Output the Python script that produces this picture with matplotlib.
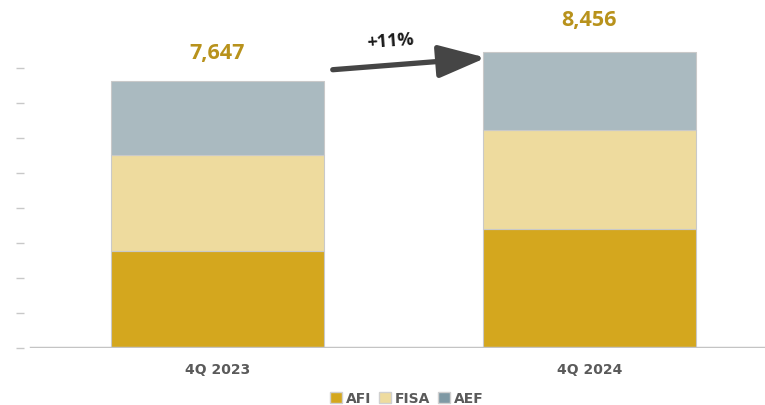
import matplotlib.pyplot as plt
from matplotlib.patches import Patch

plt.rcParams['font.family'] = ['Open Sans', 'DejaVu Sans']

categories = ['4Q 2023', '4Q 2024']
afi = [2774, 3412]
fisa = [2754, 2811]
aef = [2119, 2233]
totals = [7647, 8456]
total_labels = ['7,647', '8,456']
growth_label = '+11%'

c_afi = '#D4A71E'
c_fisa = '#EEDB9E'
c_aef = '#AABAC0'
c_aef_legend = '#7F99A4'
c_total = '#B8921C'

fig = plt.figure(figsize=(7.65, 4.06), dpi=100)
ax = fig.add_axes([24 / 765, 57 / 406, 741 / 765, 349.6 / 406])

x = list(range(len(categories)))
w = 0.573
edge = dict(edgecolor='#c9c9c9', linewidth=0.8)
ax.bar(x, afi, width=w, color=c_afi, **edge)
ax.bar(x, fisa, width=w, bottom=afi, color=c_fisa, **edge)
bottom2 = [a + b for a, b in zip(afi, fisa)]
ax.bar(x, aef, width=w, bottom=bottom2, color=c_aef, **edge)

# total labels above bars
offsets = [20, 24]
for xi, t, lab, off in zip(x, totals, total_labels, offsets):
    ax.annotate(lab, (xi, t), xytext=(0, off), textcoords='offset points',
                ha='center', va='center', fontsize=15.5, fontweight='bold',
                color=c_total)

# growth arrow
ax.annotate('', xy=(0.722, 8303), xytext=(0.310, 7960),
            arrowprops=dict(arrowstyle='-|>,head_length=2.9,head_width=1.0',
                            mutation_scale=10, lw=3.8, color='#454545',
                            shrinkA=0, shrinkB=0))
ax.text(0.464, 8789, growth_label, ha='center', va='center', fontsize=13,
        fontweight='bold', color='#1a1a1a', rotation=4)

ax.set_xlim(-0.520, 1.472)
ax.set_ylim(0, 10000)
ax.set_yticks(range(0, 9000, 1000))
ax.set_yticklabels([])
ax.tick_params(axis='y', length=5.5, width=1, color='#c8c8c8', pad=0)
ax.set_xticks(x)
ax.set_xticklabels(categories, fontsize=10, fontweight='bold', color='#5a5a5a',
                   family='DejaVu Sans')
ax.tick_params(axis='x', length=0, pad=10)
for s in ['top', 'right', 'left', 'bottom']:
    ax.spines[s].set_visible(False)
ax.axhline(0, xmin=7 / 741, xmax=1, color='#c4c4c4', lw=2.5, zorder=3)

handles = [Patch(facecolor=c_afi, edgecolor='#d0d0d0', label='AFI'),
           Patch(facecolor=c_fisa, edgecolor='#d0d0d0', label='FISA'),
           Patch(facecolor=c_aef_legend, edgecolor='#d0d0d0', label='AEF')]
leg = fig.legend(handles=handles, loc='center', bbox_to_anchor=(0.532, 7 / 406),
                 ncol=3, frameon=False, handlelength=0.85, handleheight=0.85,
                 handletextpad=0.25, columnspacing=0.6,
                 prop={'family': 'DejaVu Sans', 'weight': 'bold', 'size': 10})
for t in leg.get_texts():
    t.set_color('#5a5a5a')

fig.savefig('out.png', dpi=100)
